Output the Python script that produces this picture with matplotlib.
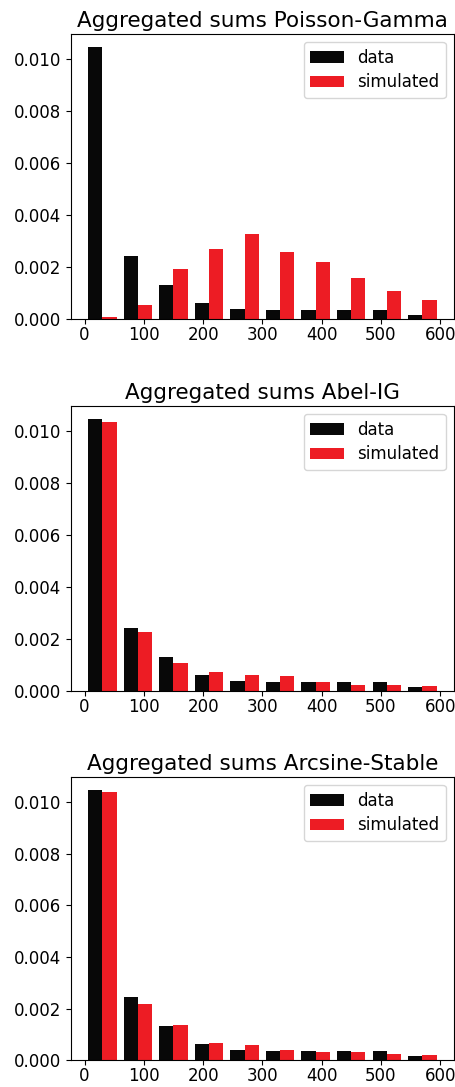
import matplotlib
matplotlib.use("Agg")
import matplotlib.pyplot as plt
import numpy as np

# histogram bins (10 bins of width 60 from 0 to 600)
bin_edges = [0, 60, 120, 180, 240, 300, 360, 420, 480, 540, 600]

# density heights
data_density = [0.01045, 0.00244, 0.00132, 0.00063, 0.00040,
                0.00036, 0.00035, 0.00035, 0.00035, 0.00017]
sim_poisson_gamma = [0.00009, 0.00055, 0.00194, 0.00271, 0.00327,
                     0.00260, 0.00220, 0.00159, 0.00107, 0.00073]
sim_abel_ig = [0.01033, 0.00226, 0.00107, 0.00074, 0.00063,
               0.00060, 0.00036, 0.00024, 0.00024, 0.00022]
sim_arcsine_stable = [0.01037, 0.00217, 0.00136, 0.00066, 0.00060,
                      0.00042, 0.00033, 0.00033, 0.00024, 0.00020]

titles = ["Aggregated sums Poisson-Gamma",
          "Aggregated sums Abel-IG",
          "Aggregated sums Arcsine-Stable"]
simulated = [sim_poisson_gamma, sim_abel_ig, sim_arcsine_stable]

# axes boxes [left, bottom, width, height] in figure fractions
boxes = [[0.1554, 0.7063, 0.8424, 0.2627],
         [0.1554, 0.3640, 0.8424, 0.2628],
         [0.1554, 0.0245, 0.8424, 0.2610]]

fig = plt.figure(figsize=(4.55, 10.87), dpi=100)

centers = [(a + b) / 2 for a, b in zip(bin_edges[:-1], bin_edges[1:])]

for title, sim, box in zip(titles, simulated, boxes):
    ax = fig.add_axes(box)
    ax.hist([centers, centers], bins=bin_edges, weights=[data_density, sim],
            color=["#080808", "#ED1C24"], label=["data", "simulated"])
    ax.set_title(title, fontsize=15.5, pad=5)
    ax.tick_params(labelsize=12)
    ax.tick_params(axis="x", pad=1.5)
    ax.set_xticks([0, 100, 200, 300, 400, 500, 600])
    ax.set_yticks([0.0, 0.002, 0.004, 0.006, 0.008, 0.010])
    ax.legend(loc="upper right", fontsize=12, labelspacing=0.4)

fig.savefig("out.png", dpi=100)
